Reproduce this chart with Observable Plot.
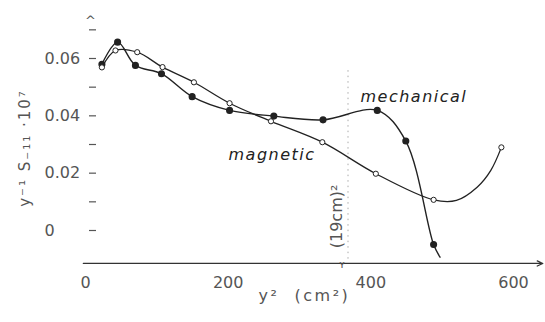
<!DOCTYPE html>
<html>
<head>
<meta charset="utf-8">
<script src="https://cdn.jsdelivr.net/npm/d3@7"></script>
<script src="https://cdn.jsdelivr.net/npm/@observablehq/plot@0.6"></script>
<style>
  html, body { margin: 0; padding: 0; background: #fff; }
  svg { font-family: "DejaVu Sans", sans-serif; }
</style>
</head>
<body>
<div id="chart"></div>
<script>
// ---- data ----
// mechanical (filled markers)
const mechX = [23, 45, 70, 106.5, 149.5, 202, 264, 333, 409, 449, 488];
const mechY = [0.0580, 0.0657, 0.0576, 0.0547, 0.0467, 0.0419, 0.0399, 0.0386, 0.0419, 0.0312, -0.0049];
// traced end of the mechanical curve (no marker)
const mechTailX = [497];
const mechTailY = [-0.0093];
// magnetic (open markers)
const magX = [23, 42, 72.5, 108, 152, 202, 260, 332, 407, 488, 583];
const magY = [0.0569, 0.0628, 0.0622, 0.0570, 0.0517, 0.0444, 0.0381, 0.0308, 0.0198, 0.0107, 0.0290];
// traced points of the magnetic curve between the last two markers (no marker)
const magTraceX = [520, 549, 568];
const magTraceY = [0.0105, 0.0151, 0.0209];

const xTicks = [0, 200, 400, 600];
const yTicks = [0, 0.01, 0.02, 0.03, 0.04, 0.05, 0.06, 0.07];
const yTickLabels = {0: "0", 0.02: "0.02", 0.04: "0.04", 0.06: "0.06"};
const markX = [368];           // (19cm)^2 marker line
const xAxisLevel = -0.0115;    // where the horizontal axis line sits
const xAxisExtent = [-3, 641];

// ---- build tables ----
const mech = mechX.map((x, i) => ({x, y: mechY[i]}));
const mechLine = mech.concat(mechTailX.map((x, i) => ({x, y: mechTailY[i]})));
const mag = magX.map((x, i) => ({x, y: magY[i]}));
const magLine = mag.slice(0, -1)
  .concat(magTraceX.map((x, i) => ({x, y: magTraceY[i]})))
  .concat([mag[mag.length - 1]]);

const ink = "#222";
const grey = "#555";

const chart = Plot.plot({
  width: 545,
  height: 322,
  marginLeft: 96,
  marginTop: 0,
  marginRight: 0,
  marginBottom: 59,
  style: {fontFamily: "DejaVu Sans, sans-serif", fontSize: "16px", background: "#fff"},
  x: {domain: [0, 600], range: [85, 513]},
  y: {domain: [0, 0.06], range: [230, 58]},
  marks: [
    // y axis: short dashes and labels, no axis line
    Plot.axisY({
      ticks: yTicks,
      tickFormat: d => yTickLabels[d] ?? "",
      tickSize: 7,
      tickPadding: 45,
      textAnchor: "start",
      stroke: grey,
      fill: grey,
      strokeWidth: 1.2,
      fontSize: 16,
      label: null
    }),
    // x axis labels
    Plot.axisX({
      ticks: xTicks,
      tickSize: 0,
      tickPadding: 13,
      fill: grey,
      fontSize: 16,
      label: null
    }),
    // horizontal axis line with arrow
    Plot.arrow([0], {
      x1: () => xAxisExtent[0], x2: () => xAxisExtent[1],
      y1: () => xAxisLevel, y2: () => xAxisLevel,
      stroke: "#333", strokeWidth: 1.3, headLength: 7, headAngle: 50
    }),
    // arrowhead at top of y axis
    Plot.text(["^"], {frameAnchor: "top-left", textAnchor: "middle", dx: -6, dy: 15, fill: grey, fontSize: 13}),
    // dashed (19cm)^2 line
    Plot.ruleX(markX, {y1: -0.010, y2: 0.056, stroke: "#aaa", strokeDasharray: "1.5,4", strokeWidth: 1}),
    Plot.text(markX, {x: d => d, y: 0.0049, dx: -11, text: () => "(19cm)²", rotate: -90, fill: grey, fontSize: 16}),
    Plot.text(markX, {x: d => d, y: xAxisLevel, dx: -6, dy: 1, text: () => "ʏ", fill: grey, fontSize: 10}),
    // curves
    Plot.line(mechLine, {x: "x", y: "y", curve: "catmull-rom", stroke: ink, strokeWidth: 1.4}),
    Plot.line(magLine, {x: "x", y: "y", curve: "catmull-rom", stroke: ink, strokeWidth: 1.3}),
    Plot.dot(mech, {x: "x", y: "y", r: 2.8, fill: ink, stroke: ink}),
    Plot.dot(mag, {x: "x", y: "y", r: 2.6, fill: "#fff", stroke: ink, strokeWidth: 1}),
    // curve labels
    Plot.text(["mechanical"], {x: () => 385.5, y: () => 0.046, text: d => d, textAnchor: "start", fontStyle: "italic", fontSize: 16, fill: ink, lineAnchor: "bottom", dy: 3}),
    Plot.text(["magnetic"], {x: () => 200.5, y: () => 0.0255, text: d => d, textAnchor: "start", fontStyle: "italic", fontSize: 16, fill: ink, lineAnchor: "bottom", dy: 3}),
    // axis titles
    Plot.text(["y⁻¹ S₋₁₁ ·10⁷"], {frameAnchor: "left", textAnchor: "middle", dx: -71, dy: 16, rotate: -90, text: d => d, fill: grey, fontSize: 15}),
    Plot.text(["y²  (cm²)"], {frameAnchor: "bottom-left", dx: 162, dy: 37, textAnchor: "start", lineAnchor: "bottom", text: d => d, fill: grey, fontSize: 16})
  ]
});

// letter spacing, as in the original hand lettering
chart.querySelectorAll("text").forEach(t => {
  const s = t.textContent;
  if (s === "mechanical" || s === "magnetic") t.setAttribute("letter-spacing", "1.5");
  if (s === "y⁻¹ S₋₁₁ ·10⁷") t.setAttribute("letter-spacing", "2");
  if (s === "y²  (cm²)") t.setAttribute("letter-spacing", "2.5");
});
document.getElementById("chart").appendChild(chart);
</script>
</body>
</html>
